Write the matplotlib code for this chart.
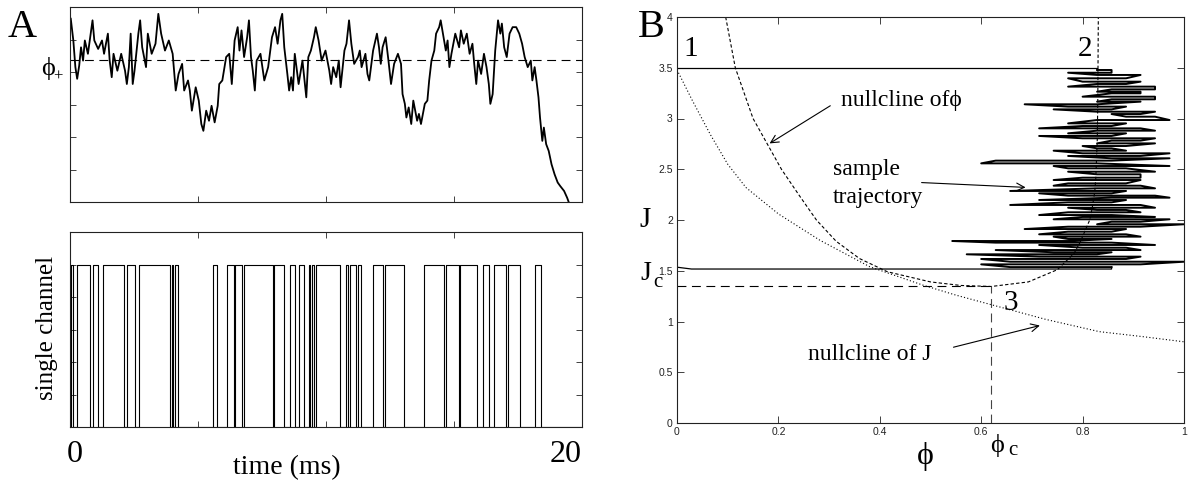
import numpy as np
import matplotlib
matplotlib.use("Agg")
import matplotlib.pyplot as plt

SERIF = ['Liberation Serif', 'DejaVu Serif']
SANS = ['Liberation Sans', 'DejaVu Sans']
PHI = '\u03d5'

# panel A, top: fraction of open channels against time (ms)
phi_time = [0.03, 0.13, 0.21, 0.28, 0.36, 0.43, 0.51, 0.58, 0.70, 0.81, 0.88, 0.95, 1.10, 1.25, 1.33,
            1.48, 1.55, 1.63, 1.70, 1.85, 2.00, 2.15, 2.22, 2.30, 2.37, 2.45, 2.52, 2.60, 2.67, 2.74,
            2.82, 2.97, 3.04, 3.19, 3.34, 3.45, 3.56, 3.71, 3.86, 4.01, 4.13, 4.24, 4.38, 4.46, 4.61,
            4.68, 4.76, 4.91, 5.03, 5.13, 5.21, 5.32, 5.43, 5.53, 5.65, 5.77, 5.83, 5.95, 6.10, 6.22,
            6.32, 6.43, 6.55, 6.62, 6.70, 6.80, 6.92, 6.99, 7.07, 7.14, 7.22, 7.29, 7.44, 7.59, 7.74,
            7.89, 8.01, 8.11, 8.22, 8.29, 8.37, 8.49, 8.56, 8.64, 8.71, 8.78, 8.93, 9.08, 9.23, 9.31,
            9.41, 9.53, 9.60, 9.71, 9.83, 9.98, 10.13, 10.20, 10.28, 10.40, 10.50, 10.57, 10.72, 10.80,
            10.90, 10.99, 11.10, 11.25, 11.32, 11.39, 11.54, 11.62, 11.69, 11.84, 11.99, 12.07, 12.14,
            12.21, 12.33, 12.44, 12.54, 12.66, 12.81, 12.93, 12.99, 13.08, 13.14, 13.23, 13.33, 13.41,
            13.56, 13.63, 13.71, 13.86, 13.96, 14.03, 14.12, 14.23, 14.30, 14.42, 14.48, 14.57, 14.68,
            14.75, 14.82, 14.90, 15.05, 15.20, 15.27, 15.38, 15.50, 15.61, 15.72, 15.79, 15.87, 15.94,
            16.06, 16.17, 16.27, 16.36, 16.42, 16.51, 16.61, 16.72, 16.81, 16.87, 16.96, 17.06, 17.17,
            17.29, 17.43, 17.55, 17.66, 17.76, 17.88, 18.00, 18.06, 18.15, 18.22, 18.30, 18.36, 18.45,
            18.51, 18.60, 18.70, 18.81, 18.93, 19.05, 19.15, 19.30, 19.42, 19.48]
phi_trace = [0.964, 0.897, 0.815, 0.779, 0.820, 0.876, 0.835, 0.897, 0.856, 0.918, 0.959, 0.897, 0.871, 0.897, 0.856,
             0.918, 0.835, 0.784, 0.856, 0.804, 0.856, 0.804, 0.763, 0.815, 0.918, 0.763, 0.804, 0.866, 0.918, 0.959,
             0.876, 0.815, 0.918, 0.856, 0.887, 0.979, 0.918, 0.866, 0.897, 0.856, 0.743, 0.794, 0.825, 0.743, 0.774,
             0.743, 0.681, 0.753, 0.712, 0.640, 0.619, 0.681, 0.650, 0.696, 0.645, 0.696, 0.763, 0.774, 0.846, 0.856,
             0.763, 0.897, 0.938, 0.866, 0.928, 0.846, 0.907, 0.959, 0.846, 0.804, 0.743, 0.835, 0.856, 0.774, 0.815,
             0.907, 0.938, 0.887, 0.959, 0.979, 0.876, 0.794, 0.743, 0.784, 0.743, 0.856, 0.763, 0.835, 0.722, 0.846,
             0.866, 0.907, 0.938, 0.897, 0.835, 0.866, 0.804, 0.763, 0.815, 0.784, 0.835, 0.753, 0.866, 0.887,
             0.959, 0.887, 0.825, 0.846, 0.866, 0.815, 0.856, 0.794, 0.774, 0.866, 0.918, 0.876, 0.825,
             0.876, 0.907, 0.835, 0.763, 0.825, 0.856, 0.825, 0.732, 0.702, 0.660, 0.691, 0.640, 0.712,
             0.650, 0.671, 0.640, 0.702, 0.712, 0.774, 0.835, 0.866, 0.918, 0.938, 0.959, 0.918, 0.866,
             0.897, 0.815, 0.856, 0.918, 0.876, 0.928, 0.887, 0.918, 0.856, 0.887, 0.825, 0.763, 0.835,
             0.794, 0.856, 0.815, 0.763, 0.702, 0.732, 0.866, 0.959, 0.918, 0.949, 0.876, 0.846, 0.918,
             0.938, 0.938, 0.918, 0.887, 0.846, 0.815, 0.835, 0.774, 0.815, 0.774, 0.722, 0.660, 0.588,
             0.629, 0.578, 0.557, 0.516, 0.485, 0.460, 0.449, 0.434, 0.413, 0.400]
phi_plus = 0.838

# panel A, bottom: open periods of a single channel (ms)
open_start = [0.03, 0.27, 0.89, 1.30, 2.22, 2.71, 3.98, 4.10, 5.58, 6.14, 6.46, 6.79, 7.98, 8.58, 8.93,
              9.32, 9.46, 9.59, 10.78, 10.95, 11.26, 11.83, 12.29, 13.81, 14.68, 15.24, 16.15, 16.58,
              17.09, 18.15]
open_end = [0.10, 0.79, 1.09, 2.10, 2.55, 3.92, 4.04, 4.21, 5.73, 6.40, 6.70, 7.93, 8.37, 8.80, 9.16,
            9.38, 9.53, 10.53, 10.86, 11.17, 11.38, 12.21, 13.03, 14.60, 15.20, 15.91, 16.36, 17.02,
            17.58, 18.40]

# panel B: phase plane trajectory, phi = open channels / N
n_channels = 35
traj_J = [3.478, 3.451, 3.429, 3.396, 3.363, 3.340, 3.314, 3.287, 3.264, 3.248, 3.215, 3.189, 3.166,
          3.140, 3.117, 3.090, 3.067, 3.044, 3.018, 2.985, 2.952, 2.926, 2.903, 2.880, 2.854, 2.828,
          2.805, 2.782, 2.755, 2.729, 2.706, 2.683, 2.657, 2.631, 2.608, 2.585, 2.558, 2.532, 2.509,
          2.476, 2.450, 2.417, 2.394, 2.361, 2.338, 2.312, 2.286, 2.263, 2.240, 2.220, 2.197, 2.174,
          2.148, 2.121, 2.099, 2.076, 2.049, 2.030, 2.007, 1.983, 1.958, 1.934, 1.911, 1.885, 1.859,
          1.836, 1.813, 1.793, 1.777, 1.754, 1.727, 1.704, 1.682, 1.662, 1.639, 1.616, 1.589, 1.563,
          1.536]
traj_left = [29, 27, 29, 27, 28, 29, 27, 30, 29, 30, 28, 30, 29, 24, 27, 26, 29, 30, 31, 29, 27, 28, 25,
             29, 27, 25, 28, 30, 29, 28, 29, 26, 28, 27, 30, 22, 21, 26, 27, 27, 29, 28, 26, 27, 26, 29,
             23, 25, 27, 30, 25, 27, 23, 27, 29, 27, 25, 28, 26, 30, 29, 27, 24, 27, 25, 26, 27, 19, 22,
             25, 28, 22, 26, 20, 25, 21, 23, 21, 23]
traj_right = [30, 30, 32, 31, 32, 31, 33, 33, 32, 32, 33, 33, 32, 29, 31, 30, 33, 32, 33, 34, 31, 30, 32,
              33, 31, 30, 33, 32, 33, 31, 30, 31, 34, 32, 34, 30, 29, 34, 31, 33, 32, 32, 32, 31, 32, 33,
              31, 30, 33, 34, 31, 30, 32, 33, 31, 32, 30, 33, 34, 32, 35, 32, 31, 30, 31, 32, 30, 27, 30,
              33, 31, 32, 30, 29, 32, 31, 35, 32, 30]
J_start = 3.5
J_exit = 1.517
J_back = 1.535

# nullclines
null_phi_x = [0.096, 0.115, 0.150, 0.178, 0.206, 0.240, 0.275, 0.314, 0.360, 0.415, 0.500, 0.560, 0.620,
              0.693, 0.750, 0.783, 0.795, 0.814, 0.819, 0.824, 0.826, 0.829, 0.830, 0.831]
null_phi_y = [4.00, 3.50, 3.00, 2.75, 2.50, 2.25, 2.00, 1.79, 1.62, 1.49, 1.39, 1.355, 1.345,
              1.39, 1.51, 1.67, 1.78, 2.00, 2.12, 2.28, 2.41, 2.80, 3.20, 4.00]
null_J_x = [0.0, 0.03, 0.066, 0.10, 0.136, 0.20, 0.282, 0.38, 0.484, 0.55, 0.624, 0.728, 0.833, 0.92, 1.0]
null_J_y = [3.48, 3.18, 2.84, 2.55, 2.32, 2.06, 1.80, 1.54, 1.36, 1.26, 1.16, 1.02, 0.90, 0.85, 0.80]
phi_c = 0.62
J_c = 1.345


def frame(ax):
    for s in ax.spines.values():
        s.set_linewidth(0.8)
        s.set_color('#222222')
    ax.tick_params(direction='in', top=True, right=True, length=4, width=0.6, colors='#222222')


fig = plt.figure(figsize=(11.94, 4.8), dpi=100)
W, H = 1194.0, 480.0

# --- A top
axA1 = fig.add_axes([70 / W, 1 - 202 / H, 512 / W, 195 / H])
axA1.plot(phi_time, phi_trace, color='black', lw=1.3)
axA1.axhline(phi_plus, color='black', lw=0.8, ls=(0, (8, 5)))
axA1.set_xlim(0, 20)
axA1.set_ylim(0.4, 1.0)
axA1.set_xticks([0, 5, 10, 15, 20])
axA1.set_yticks([0.4, 0.5, 0.6, 0.7, 0.8, 0.9, 1.0])
axA1.tick_params(labelbottom=False, labelleft=False)
frame(axA1)
axA1.text(-0.043, 0.81, PHI, transform=axA1.get_yaxis_transform(), family=SERIF, fontsize=19,
          ha='center', va='center')
axA1.text(-0.024, 0.785, '+', transform=axA1.get_yaxis_transform(), family=SERIF, fontsize=12,
          ha='center', va='center')

# --- A bottom
ts, ys = [0.0], [0.0]
for s, e in zip(open_start, open_end):
    ts += [s, s, e, e]
    ys += [0, 1, 1, 0]
ts.append(20.0)
ys.append(0.0)
axA2 = fig.add_axes([70 / W, 1 - 427 / H, 512 / W, 195 / H])
axA2.plot(ts, ys, color='black', lw=0.8)
axA2.set_xlim(0, 20)
axA2.set_ylim(0, 1.2)
axA2.set_xticks([0, 5, 10, 15, 20])
axA2.set_yticks([0, 0.2, 0.4, 0.6, 0.8, 1.0, 1.2])
axA2.tick_params(labelbottom=False, labelleft=False)
frame(axA2)

fig.text(8 / W, 1 - 37 / H, 'A', family=SERIF, fontsize=29, va='baseline')
fig.text(47 / W, 1 - 328 / H, 'single channel', family=SERIF, fontsize=18, rotation=90,
         ha='center', va='center')
fig.text(75 / W, 1 - 462 / H, '0', family=SERIF, fontsize=23, ha='center', va='baseline')
fig.text(582 / W, 1 - 462 / H, '20', family=SERIF, fontsize=23, ha='right', va='baseline')
fig.text(287 / W, 1 - 474 / H, 'time (ms)', family=SERIF, fontsize=20, ha='center', va='baseline')

# --- B phase plane
axB = fig.add_axes([677 / W, 1 - 423 / H, 507 / W, 406 / H])
# fluctuating part of the trajectory
px, py = [], []
for i, (j, lo, hi) in enumerate(zip(traj_J, traj_left, traj_right)):
    a, b = (lo, hi) if i % 2 == 0 else (hi, lo)
    px += [a / n_channels, b / n_channels]
    py += [j, j]
axB.plot(px, py, color='black', lw=1.4)
# switch-on from point 1 and the escape back to phi = 0
axB.plot([0.0, traj_left[0] / n_channels, px[0]], [J_start, J_start, py[0]], color='black', lw=0.9)
axB.plot([px[-1], px[-1], 1 / n_channels, 0.0], [py[-1], J_exit, J_exit, J_back], color='black', lw=0.9)
axB.plot(null_phi_x, null_phi_y, color='black', lw=0.8, ls=(0, (3, 2)))
axB.plot(null_J_x, null_J_y, color='black', lw=0.8, ls=(0, (1, 2)))
axB.plot([0, phi_c], [J_c, J_c], color='black', lw=0.8, ls=(0, (8, 5)))
axB.plot([phi_c, phi_c], [0, J_c], color='#444444', lw=0.8, ls=(0, (8, 5)))
axB.set_xlim(0, 1)
axB.set_ylim(0, 4)
axB.set_xticks([0, 0.2, 0.4, 0.6, 0.8, 1.0])
axB.set_xticklabels(['0', '0.2', '0.4', '0.6', '0.8', '1'], family=SANS, fontsize=7.5)
axB.set_yticks([0, 0.5, 1, 1.5, 2, 2.5, 3, 3.5, 4])
axB.set_yticklabels(['0', '0.5', '1', '1.5', '2', '2.5', '3', '3.5', '4'], family=SANS, fontsize=7.5)
frame(axB)
axB.tick_params(length=5, pad=3)

txt = dict(family=SERIF, fontsize=17)
axB.text(0.012, 3.56, '1', va='bottom', ha='left', family=SERIF, fontsize=21)
axB.text(0.805, 3.56, '2', va='bottom', ha='center', family=SERIF, fontsize=21)
axB.text(0.658, 1.18, '3', va='center', ha='center', family=SERIF, fontsize=21)
axB.text(0.324, 3.18, 'nullcline of' + PHI, va='center', ha='left', **txt)
axB.annotate('', xy=(0.178, 2.74), xytext=(0.307, 3.14),
             arrowprops=dict(arrowstyle='->', lw=0.8, color='black', mutation_scale=14))
axB.text(0.307, 2.50, 'sample', va='center', ha='left', **txt)
axB.text(0.307, 2.22, 'trajectory', va='center', ha='left', **txt)
axB.annotate('', xy=(0.693, 2.32), xytext=(0.477, 2.37),
             arrowprops=dict(arrowstyle='->', lw=0.8, color='black', mutation_scale=14))
axB.text(0.258, 0.673, 'nullcline of J', va='center', ha='left', **txt)
axB.annotate('', xy=(0.721, 0.967), xytext=(0.54, 0.74),
             arrowprops=dict(arrowstyle='->', lw=0.8, color='black', mutation_scale=14))

axB.text(-0.063, 2.0, 'J', va='center', ha='center', family=SERIF, fontsize=21, clip_on=False)
axB.text(-0.062, 1.47, 'J', va='center', ha='center', family=SERIF, fontsize=20, clip_on=False)
axB.text(-0.038, 1.38, 'c', va='center', ha='center', family=SERIF, fontsize=15, clip_on=False)
axB.text(0.49, -0.33, PHI, va='center', ha='center', family=SERIF, fontsize=23, clip_on=False)
axB.text(0.632, -0.22, PHI, va='center', ha='center', family=SERIF, fontsize=19, clip_on=False)
axB.text(0.662, -0.27, 'c', va='center', ha='center', family=SERIF, fontsize=15, clip_on=False)
fig.text(638 / W, 1 - 37 / H, 'B', family=SERIF, fontsize=29, va='baseline')

fig.savefig('out.png', dpi=100)
